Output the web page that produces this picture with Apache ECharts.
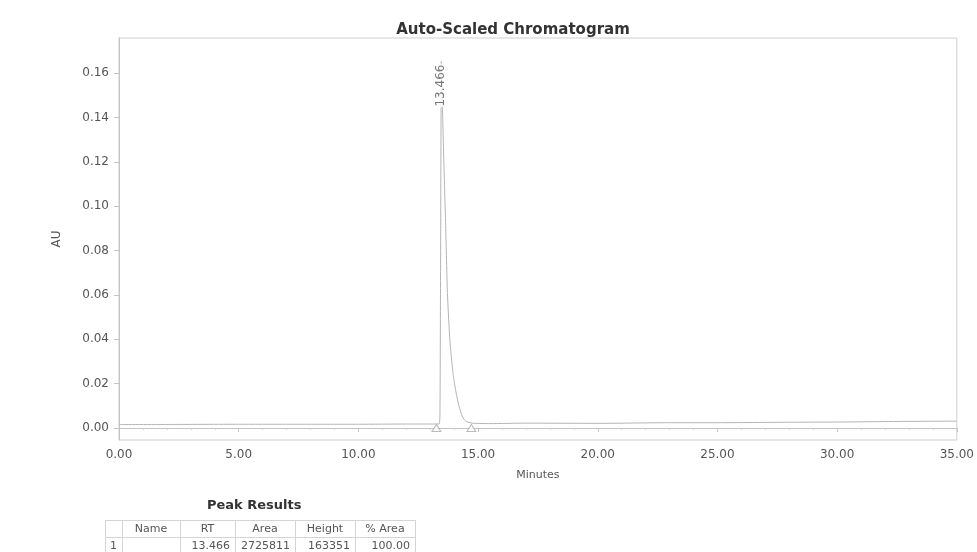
<!DOCTYPE html>
<html>
<head>
<meta charset="utf-8">
<title>Auto-Scaled Chromatogram</title>
<script src="https://cdn.jsdelivr.net/npm/echarts@6/dist/echarts.min.js"></script>
<style>
  html, body { margin: 0; padding: 0; background: #fff; }
  #chart { width: 977px; height: 552px; }
</style>
</head>
<body>
<div id="chart"></div>
<script>
// Detector trace (minutes, AU)
const times = [0, 2, 5, 7, 10, 12, 13.0, 13.38, 13.41, 13.43, 13.45, 13.466, 13.50, 13.57, 13.65, 13.72, 13.82, 13.95, 14.08, 14.2, 14.35, 14.5, 14.75, 15.5, 17, 20, 23, 25, 28, 30, 33, 35];
const absorbance = [0.0016, 0.0016, 0.0017, 0.0017, 0.0017, 0.0018, 0.0018, 0.0019, 0.01, 0.06, 0.13, 0.1652, 0.15, 0.12, 0.09, 0.061, 0.04, 0.025, 0.016, 0.010, 0.005, 0.003, 0.0022, 0.0020, 0.0022, 0.0021, 0.0024, 0.0024, 0.0026, 0.0027, 0.0030, 0.0031];

// Integration markers (peak start / end)
const peakBounds = [13.26, 14.72];

// Peak annotation
const peakRT = 13.466;

// Axis ticks
const yTicks = [0, 0.02, 0.04, 0.06, 0.08, 0.10, 0.12, 0.14, 0.16];

// Peak results table
const tableTitle = 'Peak Results';
const tableHeader = ['', 'Name', 'RT', 'Area', 'Height', '% Area'];
const tableRows = [['1', '', '13.466', '2725811', '163351', '100.00']];

const FONT = '"DejaVu Sans", "Liberation Sans", Arial, sans-serif';
const TEXT = '#555';

const chart = echarts.init(document.getElementById('chart'), null, { renderer: 'canvas' });

const trace = times.map((t, i) => [t, absorbance[i]]);
const apexIndex = times.indexOf(peakRT);
const apex = [peakRT, absorbance[apexIndex]];

// table geometry
const colEdges = [105, 122, 180, 235, 295, 355, 415];
const tableTop = 520, rowH = 17;
const tableGraphics = [];
tableGraphics.push({
  type: 'text', left: 207, top: 499,
  style: { text: tableTitle, font: 'bold 13px ' + FONT, fill: '#333' }
});
const allRows = [tableHeader].concat(tableRows);
const lineStyle = { stroke: '#d4d4d4', lineWidth: 1 };
for (let r = 0; r <= allRows.length; r++) {
  const y = tableTop + r * rowH + 0.5;
  tableGraphics.push({ type: 'line', shape: { x1: colEdges[0], y1: y, x2: colEdges[colEdges.length - 1], y2: y }, style: lineStyle });
}
colEdges.forEach(x => {
  tableGraphics.push({ type: 'line', shape: { x1: x + 0.5, y1: tableTop, x2: x + 0.5, y2: tableTop + allRows.length * rowH }, style: lineStyle });
});
allRows.forEach((row, r) => {
  row.forEach((cell, c) => {
    if (!cell) return;
    const isHeader = r === 0;
    const x0 = colEdges[c], x1 = colEdges[c + 1];
    const align = isHeader || c === 0 ? 'center' : 'right';
    const x = align === 'center' ? (x0 + x1) / 2 : x1 - 5;
    tableGraphics.push({
      type: 'text', x: x, y: tableTop + r * rowH + rowH / 2 + 0.5,
      style: { text: cell, font: '11px ' + FONT, fill: TEXT, align: align, verticalAlign: 'middle' }
    });
  });
});

const option = {
  backgroundColor: '#fff',
  animation: false,
  title: {
    text: 'Auto-Scaled Chromatogram',
    left: 508, top: 18, textAlign: 'center',
    textStyle: { fontFamily: FONT, fontSize: 15, fontWeight: 'bold', color: '#333' }
  },
  grid: {
    left: 119, right: 19, top: 38, bottom: 112,
    show: true, borderColor: '#cfcfcf', borderWidth: 1, backgroundColor: 'transparent'
  },
  xAxis: {
    type: 'value', min: 0, max: 35, interval: 5,
    name: 'Minutes', nameLocation: 'middle', nameGap: 30,
    nameTextStyle: { fontFamily: FONT, fontSize: 11, color: TEXT },
    axisLine: { show: true, lineStyle: { color: '#c4c4c4' } },
    axisTick: { show: true, length: 4, lineStyle: { color: '#c4c4c4' } },
    minorTick: { show: true, splitNumber: 5, length: 2, lineStyle: { color: '#d0d0d0' } },
    splitLine: { show: false },
    axisLabel: {
      margin: 9, fontFamily: FONT, fontSize: 12, color: TEXT,
      formatter: v => v.toFixed(2)
    }
  },
  yAxis: {
    type: 'value', min: -0.0054, max: 0.1758,
    name: 'AU', nameLocation: 'middle', nameGap: 56, nameRotate: 90,
    nameTextStyle: { fontFamily: FONT, fontSize: 12, color: TEXT },
    axisLine: { show: true, lineStyle: { color: '#c4c4c4' } },
    axisTick: { show: true, length: 5, customValues: yTicks, lineStyle: { color: '#c4c4c4' } },
    splitLine: { show: false },
    axisLabel: {
      margin: 10, fontFamily: FONT, fontSize: 12, color: TEXT,
      customValues: yTicks,
      formatter: v => v.toFixed(2)
    }
  },
  series: [
    {
      type: 'line',
      data: trace,
      showSymbol: false,
      smooth: 0.2,
      lineStyle: { color: '#b5b5b5', width: 1 },
      z: 2
    },
    {
      type: 'scatter',
      data: peakBounds.map(t => [t, 0]),
      symbol: 'triangle',
      symbolSize: [9, 7],
      itemStyle: { color: '#fff', borderColor: '#aaa', borderWidth: 1 },
      z: 3
    },
    {
      type: 'scatter',
      data: [apex],
      symbolSize: 0,
      label: {
        show: true,
        formatter: () => peakRT.toFixed(3),
        position: 'inside',
        rotate: 90,
        offset: [-24, 0],
        fontFamily: FONT, fontSize: 12, color: TEXT,
        backgroundColor: '#fff', padding: [0, 1]
      },
      z: 4
    }
  ],
  graphic: tableGraphics
};

chart.setOption(option);
</script>
</body>
</html>
